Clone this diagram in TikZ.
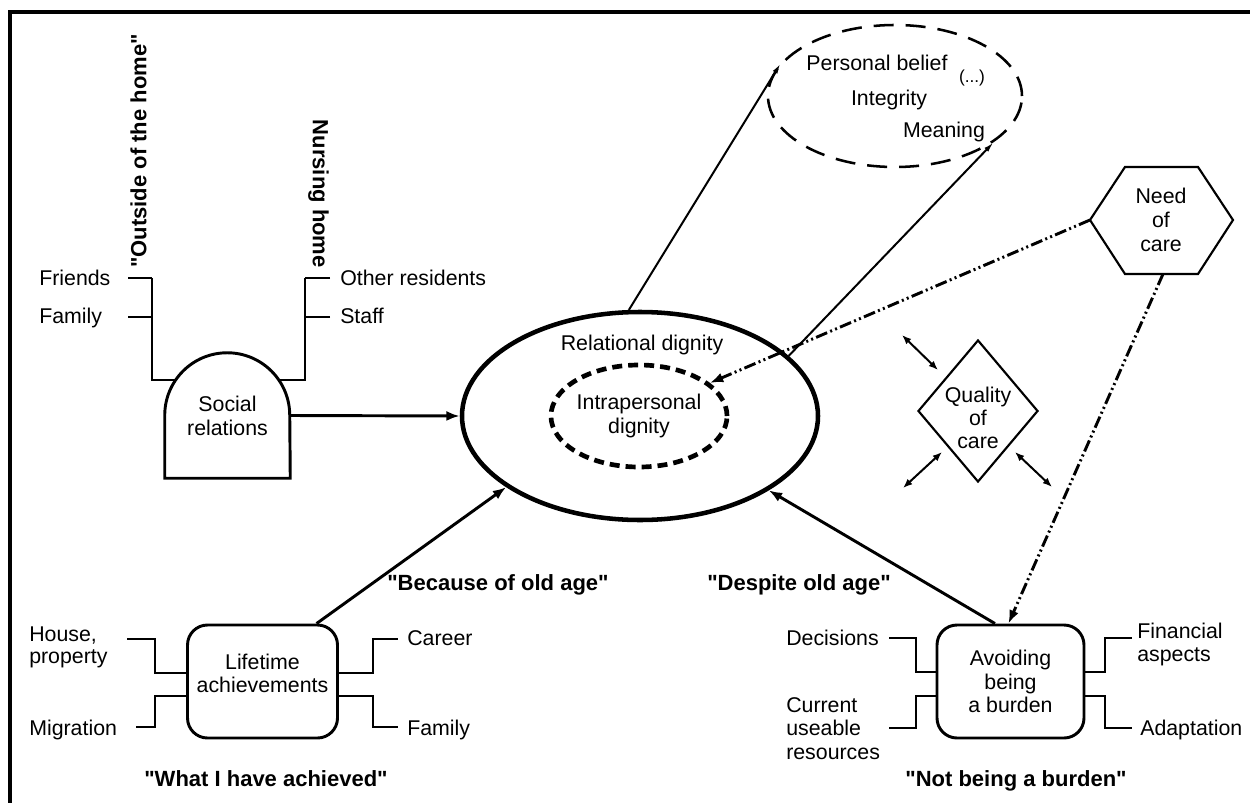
\documentclass[tikz,border=0pt]{standalone}
\usepackage{fontspec}
\setmainfont{Liberation Sans}
\newfontfamily\lsans{Liberation Sans}
\usetikzlibrary{arrows.meta,shapes.geometric}
\newcommand\nfont{\lsans\fontsize{16}{17.5}\selectfont}
\newcommand\bqfont{\lsans\fontsize{16.5}{18}\selectfont\bfseries}
\begin{document}
\begin{tikzpicture}[x=0.75pt,y=-0.75pt,
  lbl/.style={inner sep=0pt,font=\nfont},
  mlbl/.style={inner sep=0pt,align=center},
  llbl/.style={inner sep=0pt,align=left},
  blbl/.style={inner sep=0pt,font=\bqfont},
  arr/.style={line width=2.2pt,-{Latex[length=10pt,width=7.5pt]}},
  thinarr/.style={line width=1.5pt,-{Latex[length=8pt,width=4pt]}},
  darr/.style={line width=1.5pt,{Latex[length=7pt,width=5.5pt]}-{Latex[length=7pt,width=5.5pt]}},
  dd/.style={line width=2.2pt,dash pattern=on 9pt off 2.5pt on 1.5pt off 2.5pt on 1.5pt off 2.5pt,-{Latex[length=10pt,width=7.5pt]}},
  brk/.style={line width=1.9pt},
  box/.style={draw,rounded corners=15pt,line width=2.2pt,inner sep=0pt}]
\useasboundingbox (0,0) rectangle (1250,803);
% frame
\draw[line width=2.6pt] (10,803) -- (10,12) -- (1250,12);

% Social relations
\node[mlbl,minimum width=93.75pt,minimum height=93.75pt,font=\lsans\fontsize{16}{18}\selectfont] (social) at (227.5,415.5) {Social\\relations};
\draw[line width=2.2pt] (social.south west) -- ++(0,-63) arc[start angle=180,end angle=360,radius=62.5] -- (social.south east) -- cycle;
\draw[brk] (128,278) -- (152,278) (128,317) -- (152,317) (152,278) -- (152,380) -- (176,380);
\draw[brk] (330,278) -- (305,278) (330,317) -- (305,317) (305,278) -- (305,380) -- (279,380);
\node[lbl,anchor=base west] (friends) at (39,285) {Friends};
\node[lbl,anchor=base west] (family1) at (39,323) {Family};
\node[lbl,anchor=base west] (others) at (340,285) {Other residents};
\node[lbl,anchor=base west] (staff) at (340,323) {Staff};
\node[blbl,rotate=90,anchor=west] (outside) at (138.5,268) {"Outside of the home"};
\node[blbl,rotate=-90,anchor=east] (nursing) at (318.5,268) {Nursing home};

% central ellipses
\node[ellipse,draw,line width=3.4pt,minimum width=267pt,minimum height=156pt,inner sep=0pt] (big) at (640,416) {};
\node[lbl] (reldig) at (642,345) {Relational dignity};
\node[ellipse,draw,line width=3.5pt,dash pattern=on 7.5pt off 4.5pt,minimum width=129pt,minimum height=76.5pt,inner sep=0pt,align=center,font=\lsans\fontsize{16}{18.5}\selectfont] (intra) at (639,416) {Intrapersonal\\dignity};

% personal belief
\node[ellipse,draw,line width=1.9pt,dash pattern=on 15pt off 9pt,minimum width=190.5pt,minimum height=106.5pt,inner sep=0pt] (belief) at (895,96) {};
\node[lbl,anchor=base] (pb) at (877,70) {Personal belief};
\node[inner sep=0pt,font=\lsans\fontsize{13}{14}\selectfont] (etc) at (972,78) {(...)};
\node[lbl,anchor=base] (integ) at (889,105) {Integrity};
\node[lbl,anchor=base] (mean) at (944,137) {Meaning};
\draw[thinarr] (big.96) -- (belief.164);
\draw[thinarr] (big.22.5) -- (belief.335);

% need of care
\coordinate (hL) at (1090,220);
\coordinate (hTL) at (1125,167);
\coordinate (hTR) at (1198,167);
\coordinate (hR) at (1233,220);
\coordinate (hBR) at (1198,274);
\coordinate (hBL) at (1125,274);
\coordinate (hB) at (1163,274);
\draw[line width=1.6pt] (hL) -- (hTL) -- (hTR) -- (hR) -- (hBR) -- (hBL) -- cycle;
\node[mlbl,font=\lsans\fontsize{16}{18}\selectfont] (need) at (1161,220) {Need\\of\\care};

% quality of care
\node[diamond,draw,line width=1.6pt,minimum width=90pt,minimum height=106.5pt,inner sep=0pt] (qual) at (978,411) {};
\node[mlbl,font=\lsans\fontsize{16}{17}\selectfont] (qualt) at (978,418) {Quality\\of\\care};
\coordinate (q1a) at (902,335); \coordinate (q1b) at (938,370);
\coordinate (q2a) at (903,488); \coordinate (q2b) at (942,452);
\coordinate (q3a) at (1015,452); \coordinate (q3b) at (1052,487);
\draw[darr] (q1a) -- (q1b);
\draw[darr] (q2a) -- (q2b);
\draw[darr] (q3a) -- (q3b);

% lifetime achievements
\node[box,minimum width=112.5pt,minimum height=84.75pt] (life) at (262.5,681.5) {};
\node[mlbl,font=\lsans\fontsize{16}{17.25}\selectfont] (lifet) at (262.5,673) {Lifetime\\achievements};
\draw[brk] (127,639) -- (155,639) -- (155,673) -- (187.5,673);
\draw[brk] (187.5,696) -- (155,696) -- (155,727) -- (136,727);
\draw[brk] (337.5,673) -- (373,673) -- (373,639) -- (398,639);
\draw[brk] (337.5,696) -- (373,696) -- (373,727) -- (398,727);
\node[llbl,anchor=base west,font=\lsans\fontsize{16}{16.5}\selectfont] (house) at (29,663) {House,\\property};
\node[lbl,anchor=base west] (migr) at (29,735) {Migration};
\node[lbl,anchor=base west] (career) at (407,645) {Career};
\node[lbl,anchor=base west] (family2) at (407,735) {Family};

% avoiding being a burden
\node[box,minimum width=110.25pt,minimum height=84.75pt,align=center,font=\lsans\fontsize{16}{17.6}\selectfont] (avoid) at (1010.5,681.5) {Avoiding\\being\\a burden};
\draw[brk] (889,638) -- (916,638) -- (916,672) -- (937,672);
\draw[brk] (937,696) -- (916,696) -- (916,728) -- (889,728);
\draw[brk] (1084,672) -- (1105,672) -- (1105,638) -- (1132,638);
\draw[brk] (1084,696) -- (1105,696) -- (1105,728) -- (1132,728);
\node[lbl,anchor=base west] (decis) at (786,645) {Decisions};
\node[llbl,anchor=base west,font=\lsans\fontsize{16}{17.6}\selectfont] (curr) at (786,759) {Current\\useable\\resources};
\node[llbl,anchor=base west,font=\lsans\fontsize{16}{17.25}\selectfont] (fin) at (1137,661) {Financial\\aspects};
\node[lbl,anchor=base west] (adapt) at (1140,735) {Adaptation};

% arrows
\draw[arr] (social.east) -- (big.west);
\draw[arr] (life.47.6) -- (big.208);
\draw[arr] (avoid.105) -- (big.330.6);
\draw[dd] (hL) -- (intra.25);
\draw[dd] (hB) -- (avoid.92);

% bold captions
\node[blbl,anchor=base west] (because) at (387,590) {"Because of old age"};
\node[blbl,anchor=base west] (despite) at (707,590) {"Despite old age"};
\node[blbl,anchor=base] (what) at (266,786) {"What I have achieved"};
\node[blbl,anchor=base] (notb) at (1016,786) {"Not being a burden"};
\end{tikzpicture}
\end{document}
